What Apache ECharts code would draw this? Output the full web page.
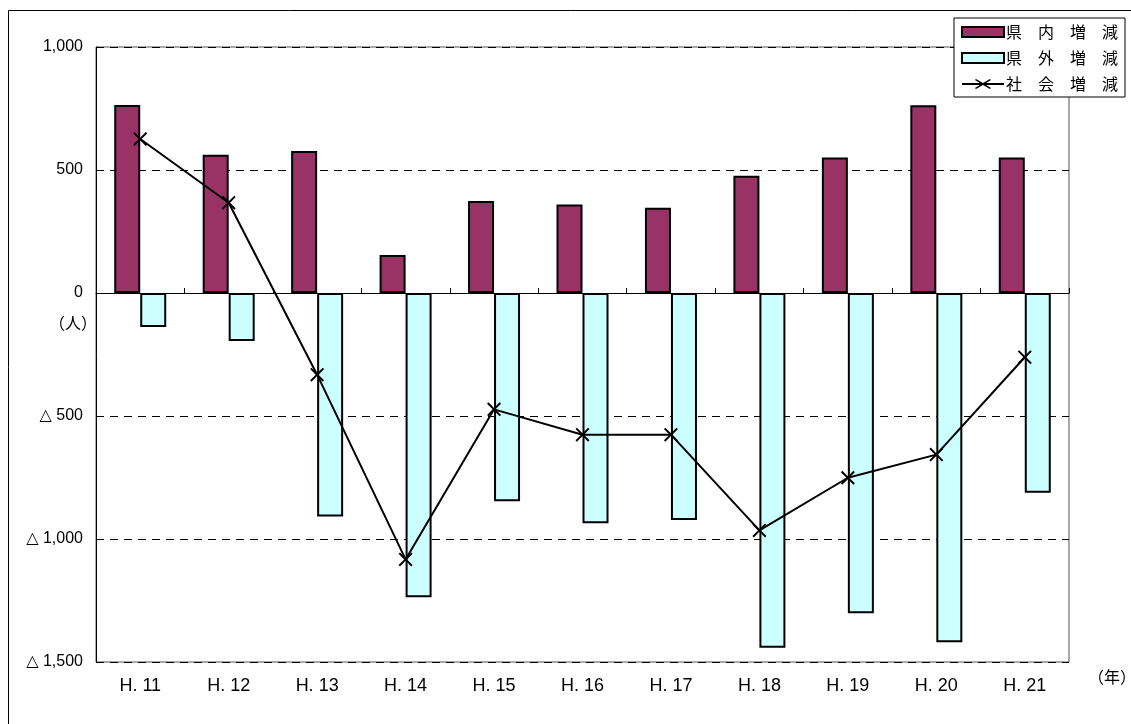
<!DOCTYPE html>
<html><head><meta charset="utf-8">
<script src="https://cdn.jsdelivr.net/npm/echarts@6/dist/echarts.min.js"></script>
<style>html,body{margin:0;padding:0;background:#fff}#c{width:1131px;height:724px}</style>
</head><body><div id="c"></div>
<script>
var categories = ['H. 11','H. 12','H. 13','H. 14','H. 15','H. 16','H. 17','H. 18','H. 19','H. 20','H. 21'];
var inPref = [764, 562, 577, 154, 374, 360, 347, 477, 551, 763, 551];
var outPref = [-138, -195, -909, -1237, -847, -936, -923, -1442, -1302, -1420, -812];
var social = [626, 367, -332, -1083, -473, -576, -576, -965, -751, -657, -261];
var names = ['県内増減', '県外増減', '社会増減'];

var numFont = '"Liberation Sans", "DejaVu Sans", sans-serif';
var jpFont = '"Noto Sans CJK JP", sans-serif';
function fmt(v){ return String(v).replace(/\B(?=(\d{3})+(?!\d))/g, ','); }

var xMark = 'path://M1,0 L5,4 L9,0 L10,1 L6,5 L10,9 L9,10 L5,6 L1,10 L0,9 L4,5 L0,1 Z';
var legendLineIcon = 'path://M0,4.1 L42,4.1 L42,5.9 L0,5.9 Z M14,0 L21,4 L28,0 L29,1 L22.5,5 L29,9 L28,10 L21,6 L14,10 L13,9 L19.5,5 L13,1 Z';

var chart = echarts.init(document.getElementById('c'));
chart.setOption({
  animation: false,
  backgroundColor: '#fff',
  grid: { left: 96, right: 62, top: 47, bottom: 62, show: true, borderColor: '#555', borderWidth: 1, backgroundColor: 'transparent' },
  legend: {
    orient: 'vertical', right: 6, top: 18,
    backgroundColor: '#fff', borderColor: '#000', borderWidth: 1,
    padding: [5, 7, 4, 7], itemGap: 8, itemWidth: 42, itemHeight: 10,
    formatter: function(n){ return n.split('').join('\u3000'); },
    textStyle: { fontFamily: jpFont, fontSize: 16, color: '#000', lineHeight: 18, padding: [0,0,0,-3] },
    data: [
      { name: names[0], icon: 'rect', itemStyle: { borderColor: '#000', borderWidth: 2 } },
      { name: names[1], icon: 'rect', itemStyle: { borderColor: '#000', borderWidth: 2 } },
      { name: names[2], icon: legendLineIcon, itemStyle: { color: '#000', borderWidth: 0 } }
    ]
  },
  xAxis: [
    { type: 'category', data: categories, position: 'bottom',
      axisLine: { onZero: false, show: false }, axisTick: { show: false },
      axisLabel: { fontFamily: numFont, fontSize: 18, color: '#000', margin: 15 } },
    { type: 'category', data: categories, position: 'bottom',
      axisLine: { onZero: true, lineStyle: { color: '#000', width: 1 } },
      axisTick: { show: true, inside: true, length: 5, lineStyle: { color: '#000' } },
      axisLabel: { show: false } }
  ],
  yAxis: {
    type: 'value', min: -1500, max: 1000, interval: 500,
    axisLine: { show: true, lineStyle: { color: '#000' } }, axisTick: { show: false },
    axisLabel: { fontFamily: numFont, fontSize: 16, color: '#000', margin: 13,
      formatter: function(v){ return v < 0 ? '△ ' + fmt(-v) : fmt(v); } },
    splitLine: { show: true, lineStyle: { color: '#000', type: [8, 6], width: 1 } }
  },
  series: [
    { name: names[0], type: 'bar', data: inPref, barWidth: 26, barGap: '0%',
      itemStyle: { color: '#993366', borderColor: '#000', borderWidth: 2 } },
    { name: names[1], type: 'bar', data: outPref, barWidth: 26, barGap: '0%',
      itemStyle: { color: '#CCFFFF', borderColor: '#000', borderWidth: 2 } },
    { name: names[2], type: 'line', data: social,
      symbol: xMark, symbolSize: 14,
      lineStyle: { color: '#000', width: 2 },
      itemStyle: { color: '#000' }, z: 5 }
  ],
  graphic: [
    { type: 'rect', silent: true, shape: { x: 8.5, y: 10.5, width: 1200, height: 800 },
      style: { fill: 'none', stroke: '#000', lineWidth: 1 }, z: -10 },
    { type: 'text', left: 49, top: 315, style: { text: '（人）', font: '16px "Noto Sans CJK JP"', fill: '#000' } },
    { type: 'text', left: 1088, top: 669, style: { text: '（年）', font: '16px "Noto Sans CJK JP"', fill: '#000' } }
  ]
});
</script></body></html>
